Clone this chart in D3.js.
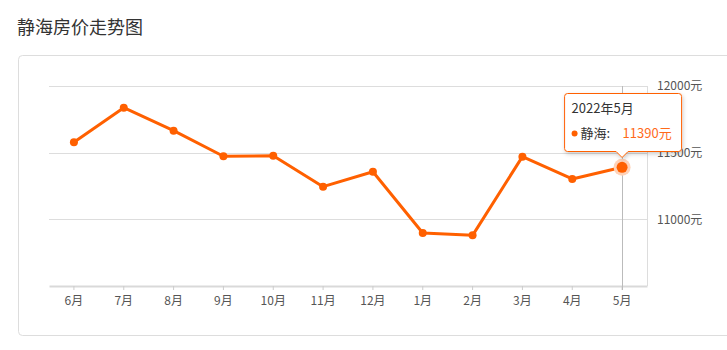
<!DOCTYPE html>
<html>
<head>
<meta charset="utf-8">
<script src="https://cdn.jsdelivr.net/npm/d3@7"></script>
<style>
  body { margin: 0; background: #fff; font-family: "Noto Sans CJK SC", "Open Sans", sans-serif; }
  svg { display: block; }
</style>
</head>
<body>
<div id="chart"></div>
<script>
// chart data
const months = ["6月", "7月", "8月", "9月", "10月", "11月", "12月", "1月", "2月", "3月", "4月", "5月"];
const prices = [11578, 11837, 11665, 11473, 11477, 11245, 11357, 10898, 10880, 11470, 11303, 11390];
const yTicks = [11000, 11500, 12000];
const seriesName = "静海";
const hoverIndex = 11;
const hoverLabel = "2022年5月";

const width = 727;
const height = 350;
const orange = "#ff6000";

const svg = d3.select("#chart")
    .append("svg")
    .attr("width", width)
    .attr("height", height);

// title
svg.append("text")
    .attr("x", 17)
    .attr("y", 34)
    .attr("font-size", "18px")
    .attr("fill", "#333")
    .text("静海房价走势图");

// panel
svg.append("rect")
    .attr("x", 18.5)
    .attr("y", 55.5)
    .attr("width", 740)
    .attr("height", 280)
    .attr("rx", 4)
    .attr("fill", "#fff")
    .attr("stroke", "#ddd");

const plot = { left: 49, right: 647, top: 86, bottom: 286 };

const x = d3.scaleBand()
    .domain(months)
    .range([plot.left, plot.right]);

const y = d3.scaleLinear()
    .domain([10500, 12000])
    .range([plot.bottom, plot.top]);

const cx = d => x(d) + x.bandwidth() / 2;

// gridlines
svg.append("g")
    .selectAll("line")
    .data(yTicks)
    .enter()
    .append("line")
    .attr("x1", plot.left)
    .attr("x2", plot.right)
    .attr("y1", d => Math.round(y(d)) + 0.5)
    .attr("y2", d => Math.round(y(d)) + 0.5)
    .attr("stroke", "#ddd");

// right border of plot
svg.append("line")
    .attr("x1", plot.right + 0.5)
    .attr("x2", plot.right + 0.5)
    .attr("y1", plot.top)
    .attr("y2", plot.bottom)
    .attr("stroke", "#ddd");

// y labels
svg.append("g")
    .selectAll("text")
    .data(yTicks)
    .enter()
    .append("text")
    .attr("x", 657)
    .attr("y", d => y(d))
    .attr("dy", "0.35em")
    .attr("font-size", "12px")
    .attr("fill", "#555")
    .text(d => d + "元");

// x axis
const xAxis = svg.append("g")
    .attr("transform", `translate(0,${plot.bottom})`)
    .call(d3.axisBottom(x).tickSize(4).tickPadding(6).tickSizeOuter(0));
xAxis.select(".domain").attr("stroke", "#d9d9d9").attr("stroke-width", 2);
xAxis.selectAll(".tick line").attr("stroke", "#ccc");
xAxis.selectAll(".tick text")
    .attr("font-size", "12px")
    .attr("fill", "#555")
    .attr("font-family", "'Noto Sans CJK SC', sans-serif");

// axis pointer
svg.append("line")
    .attr("x1", Math.round(cx(months[hoverIndex])) + 0.5)
    .attr("x2", Math.round(cx(months[hoverIndex])) + 0.5)
    .attr("y1", plot.top)
    .attr("y2", plot.bottom + 4)
    .attr("stroke", "#bbb");

// line
const line = d3.line()
    .x((d, i) => cx(months[i]))
    .y(d => y(d));

svg.append("path")
    .datum(prices)
    .attr("fill", "none")
    .attr("stroke", orange)
    .attr("stroke-width", 3)
    .attr("stroke-linejoin", "round")
    .attr("d", line);

svg.append("g")
    .selectAll("circle")
    .data(prices)
    .enter()
    .append("circle")
    .attr("cx", (d, i) => cx(months[i]))
    .attr("cy", d => y(d))
    .attr("r", 4)
    .attr("fill", orange);

// hovered point
const hx = cx(months[hoverIndex]);
const hy = y(prices[hoverIndex]);
svg.append("circle")
    .attr("cx", hx).attr("cy", hy).attr("r", 8.5)
    .attr("fill", "#ffd2b8");
svg.append("circle")
    .attr("cx", hx).attr("cy", hy).attr("r", 5.5)
    .attr("fill", orange);

// tooltip
const tw = 117, th = 58;
const tx = hx - 57.5, ty = 93.5;
const defs = svg.append("defs");
const f = defs.append("filter").attr("id", "shadow").attr("x", "-20%").attr("y", "-20%").attr("width", "140%").attr("height", "150%");
f.append("feDropShadow").attr("dx", 1).attr("dy", 2).attr("stdDeviation", 2).attr("flood-color", "#000").attr("flood-opacity", 0.2);

const tip = svg.append("g");
const ax = hx;
tip.append("path")
    .attr("d", `M${tx + 3},${ty} H${tx + tw - 3} Q${tx + tw},${ty} ${tx + tw},${ty + 3} V${ty + th - 3} Q${tx + tw},${ty + th} ${tx + tw - 3},${ty + th}
        H${ax + 6} L${ax},${ty + th + 6} L${ax - 6},${ty + th} H${tx + 3} Q${tx},${ty + th} ${tx},${ty + th - 3} V${ty + 3} Q${tx},${ty} ${tx + 3},${ty} Z`)
    .attr("fill", "#fff")
    .attr("stroke", orange)
    .attr("filter", "url(#shadow)");

tip.append("text")
    .attr("x", tx + 7)
    .attr("y", ty + 19)
    .attr("font-size", "13px")
    .attr("fill", "#333")
    .text(hoverLabel);

tip.append("circle")
    .attr("cx", tx + 10)
    .attr("cy", ty + 40)
    .attr("r", 3)
    .attr("fill", orange);

tip.append("text")
    .attr("x", tx + 16)
    .attr("y", ty + 44)
    .attr("font-size", "13px")
    .attr("fill", "#333")
    .text(seriesName + ":");

tip.append("text")
    .attr("x", tx + 58)
    .attr("y", ty + 44)
    .attr("font-size", "13px")
    .attr("fill", "#ff6a1a")
    .text(prices[hoverIndex] + "元");
</script>
</body>
</html>
